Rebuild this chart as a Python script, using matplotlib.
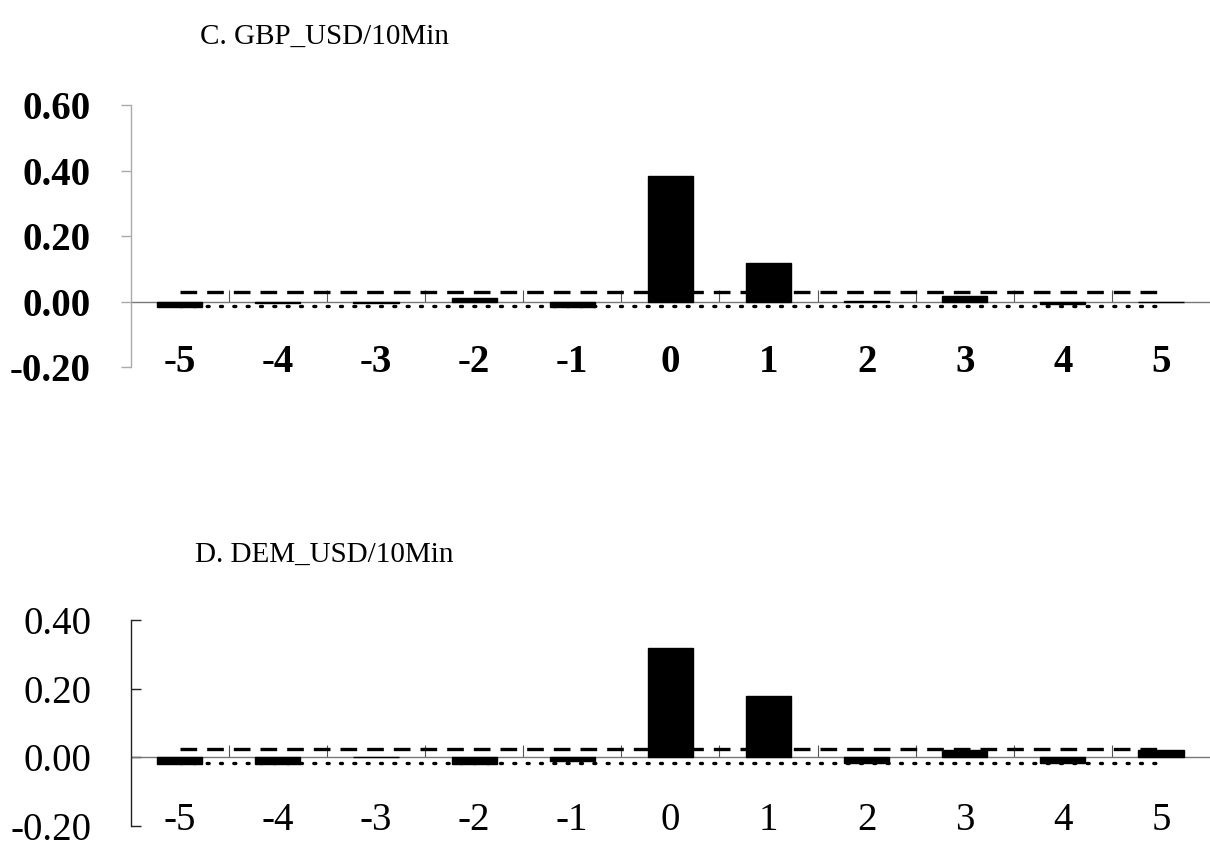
import numpy as np
import matplotlib.pyplot as plt

# lags and event-window coefficients
lags = [-5, -4, -3, -2, -1, 0, 1, 2, 3, 4, 5]
tick_text = ["-5", "-4", "-3", "-2", "-1", "0", "1", "2", "3", "4", "5"]

gbp_coef = [-0.015, -0.004, -0.005, 0.012, -0.015, 0.384, 0.117, 0.002, 0.016, -0.008, 0.0]
gbp_upper = [0.03] * 11
gbp_lower = [-0.013] * 11

dem_coef = [-0.02, -0.02, 0.0, -0.02, -0.012, 0.318, 0.177, -0.018, 0.022, -0.016, 0.02]
dem_upper = [0.023] * 11
dem_lower = [-0.018] * 11

gbp_yticks = [-0.2, 0.0, 0.2, 0.4, 0.6]
dem_yticks = [-0.2, 0.0, 0.2, 0.4]

plt.rcParams['font.family'] = ['Liberation Serif', 'DejaVu Serif']

fig = plt.figure(figsize=(12.1, 8.48), dpi=100)
ax1 = fig.add_axes([0.108, 0.567, 0.892, 0.309])
ax2 = fig.add_axes([0.108, 0.026, 0.892, 0.243])


def panel(ax, coef, upper, lower, yticks, bold, spine_col, tick_dir, ypad):
    weight = 'bold' if bold else 'normal'
    ax.bar(lags, coef, width=0.46, color='black', edgecolor='black', zorder=3)
    ax.axhline(0, color='#777777', lw=1.0, zorder=2)
    ax.plot(lags, upper, color='black', lw=2.4, ls=(0, (5, 3)), zorder=4)
    ax.plot(lags, lower, color='black', lw=2.4, ls=(0, (0.6, 3.4)),
            dash_capstyle='round', zorder=4)
    ax.set_xlim(-5.5, 5.5)
    ax.set_ylim(yticks[0], yticks[-1])
    ax.set_yticks(yticks)
    ax.set_yticklabels([f"{v:.2f}" for v in yticks], fontsize=28, fontweight=weight)
    ax.set_xticks(lags)
    ax.set_xticklabels(tick_text, fontsize=28, fontweight=weight)
    ax.tick_params(axis='x', length=0, pad=-17)
    ax.tick_params(axis='y', direction=tick_dir, length=7, color=spine_col, width=1.0, pad=ypad)
    for s in ['top', 'right', 'bottom']:
        ax.spines[s].set_visible(False)
    ax.spines['left'].set_color(spine_col)
    ax.spines['left'].set_linewidth(1.0)
    # category boundary marks on the zero line
    zero_pos = -yticks[0] / (yticks[-1] - yticks[0])
    sec = ax.secondary_xaxis(zero_pos)
    sec.set_xticks(np.array(lags[:-1]) + 0.5)
    sec.tick_params(direction='in', length=9, labelbottom=False, labeltop=False,
                    color='#555555', width=0.8)
    sec.spines['bottom'].set_visible(False)
    sec.spines['top'].set_visible(False)


panel(ax1, gbp_coef, gbp_upper, gbp_lower, gbp_yticks, True, '#aaaaaa', 'out', 22)
panel(ax2, dem_coef, dem_upper, dem_lower, dem_yticks, False, '#222222', 'in', 28)

fig.text(0.165, 0.956, "C. GBP_USD/10Min", fontsize=21, va='center', ha='left')
fig.text(0.161, 0.346, "D. DEM_USD/10Min", fontsize=21, va='center', ha='left')

fig.savefig("out.png", dpi=100)
